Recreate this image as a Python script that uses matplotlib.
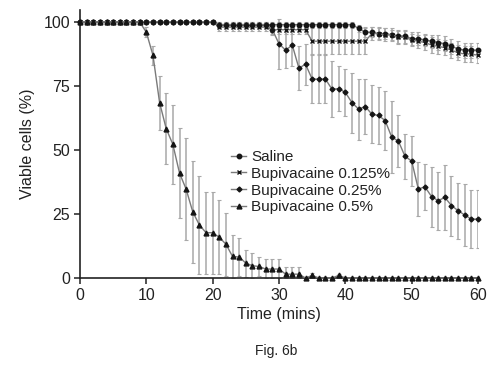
import matplotlib
matplotlib.use("Agg")
import matplotlib.pyplot as plt
import numpy as np

plt.rcParams['font.family'] = ['Liberation Sans', 'DejaVu Sans']

time = [0, 1, 2, 3, 4, 5, 6, 7, 8, 9, 10, 11, 12, 13, 14, 15, 16, 17, 18, 19, 20,
        21, 22, 23, 24, 25, 26, 27, 28, 29, 30, 31, 32, 33, 34, 35, 36, 37, 38, 39, 40,
        41, 42, 43, 44, 45, 46, 47, 48, 49, 50, 51, 52, 53, 54, 55, 56, 57, 58, 59, 60]

saline = [100]*21 + [99]*21 + [97.5] + [96, 96, 95.5, 95.5, 95, 94.5, 94.5, 93.5, 93.5, 93,
                                        92.5, 92, 91.5, 90.5, 89.5, 89, 89, 89]
saline_sd = [0]*21 + [1]*21 + [1.5] + [2, 2, 2, 2, 2, 2.5, 2.5, 2.5, 2.5, 2.5, 2.5, 3, 3, 3, 3, 3, 3, 3]

bup0125 = [100]*21 + [98]*8 + [97]*6 + [92.5]*9 + [95.5, 95.5, 95, 95, 94, 94, 93, 92.5, 92, 91,
                                                  90.5, 90, 89, 88, 87.5, 87.5, 87]
bup0125_sd = [0]*21 + [1.5]*8 + [1.5]*6 + [5]*9 + [2.5, 2.5, 2.5, 2.5, 2.5, 2.5, 2.5, 2.5, 3, 3,
                                                  3, 3, 3, 3, 3, 3, 3]

bup025 = [100]*21 + [99]*8 + [97, 91.5, 89, 91, 82, 83.5, 77.7, 77.7, 77.7, 73.7, 74, 72.5, 68.5,
                              66, 67, 64, 63.5, 61.5, 55, 53.5, 47.5, 45.7, 34.8, 35.6, 31.8,
                              30.2, 31.5, 28.3, 26.3, 24.6, 23, 23]
bup025_sd = [0]*21 + [1]*8 + [2, 9.8, 7, 8, 8.7, 8, 9.5, 9.5, 9.5, 10.9, 8.8, 9.3, 11.7, 11.9,
                              10.6, 11.4, 11, 11.5, 14, 10, 8.9, 9.6, 10.7, 9.1, 11.7, 11.4,
                              12.8, 11.7, 11, 12, 11.3, 11.3]

bup05 = [100]*10 + [96, 87, 68.5, 58.3, 52.2, 41, 34.7, 25.8, 20.7, 17.7, 17.7, 15.9, 13.2, 8.4,
                    8.2, 5.8, 4.8, 4.5, 3.5, 3.5, 3.5, 1.5, 1.5, 1.5, 0, 1, 0, 0, 0, 1] + [0]*21
bup05_sd = [0]*10 + [2, 3.6, 10.6, 13.8, 15.4, 17.7, 20, 20, 19, 16, 16, 14.5, 12.3, 8.5, 7.6,
                     5.3, 5, 3.6, 3.8, 3.8, 3.8, 2.9, 2.9, 2.9, 0.5, 0.8, 0.5, 0.5, 0.5, 0.5] + [0]*21

labels = ['Saline', 'Bupivacaine 0.125%', 'Bupivacaine 0.25%', 'Bupivacaine 0.5%']
markers = ['o', 'x', 'D', '^']
msizes = [3.2, 3.5, 2.5, 3.5]
series = [saline, bup0125, bup025, bup05]
sds = [saline_sd, bup0125_sd, bup025_sd, bup05_sd]

fig = plt.figure(figsize=(4.87, 3.65), dpi=100)
ax = fig.add_axes([80/487, 1-278/365, (478-80)/487, (278-10)/365])

handles = []
for vals, sd, lab, mk, ms in zip(series, sds, labels, markers, msizes):
    v = np.array(vals, dtype=float)
    s = np.array(sd, dtype=float)
    lower = np.minimum(s, v)
    upper = s
    ax.errorbar(time, v, yerr=[lower, upper], fmt='none', ecolor='#a8a8a8',
                elinewidth=1.1, capsize=1.6, capthick=0.8, zorder=1)
    h, = ax.plot(time, v, color='#7a7a7a', lw=1.0, marker=mk, ms=ms,
                 mfc='#151515', mec='#151515', mew=1.0, zorder=3, label=lab,
                 clip_on=False)
    handles.append(h)

ax.set_xlim(0, 60)
ax.set_ylim(0, 104.7)
ax.set_xticks([0, 10, 20, 30, 40, 50, 60])
ax.set_yticks([0, 25, 50, 75, 100])
for side in ['top', 'right']:
    ax.spines[side].set_visible(False)
for side in ['left', 'bottom']:
    ax.spines[side].set_linewidth(1.2)
    ax.spines[side].set_color('#222222')
ax.tick_params(direction='out', length=4, width=1.1, labelsize=11.5, colors='#222222',
               labelcolor='#222222', pad=3)
ax.set_xlabel('Time (mins)', fontsize=11.5, color='#222222', labelpad=3)
ax.set_ylabel('Viable cells (%)', fontsize=11.5, color='#222222', labelpad=6)

leg = ax.legend(handles=handles, loc='upper left', bbox_to_anchor=(231/487, 1-150/365),
                bbox_transform=fig.transFigure, frameon=False, fontsize=11,
                handlelength=1.0, handletextpad=0.3, labelspacing=0.18,
                borderpad=0, borderaxespad=0)
for t in leg.get_texts():
    t.set_color('#222222')

fig.text(276/487, 1-351/365, 'Fig. 6b', ha='center', va='center', fontsize=10, color='#222222')

fig.savefig('out.png', dpi=100)
